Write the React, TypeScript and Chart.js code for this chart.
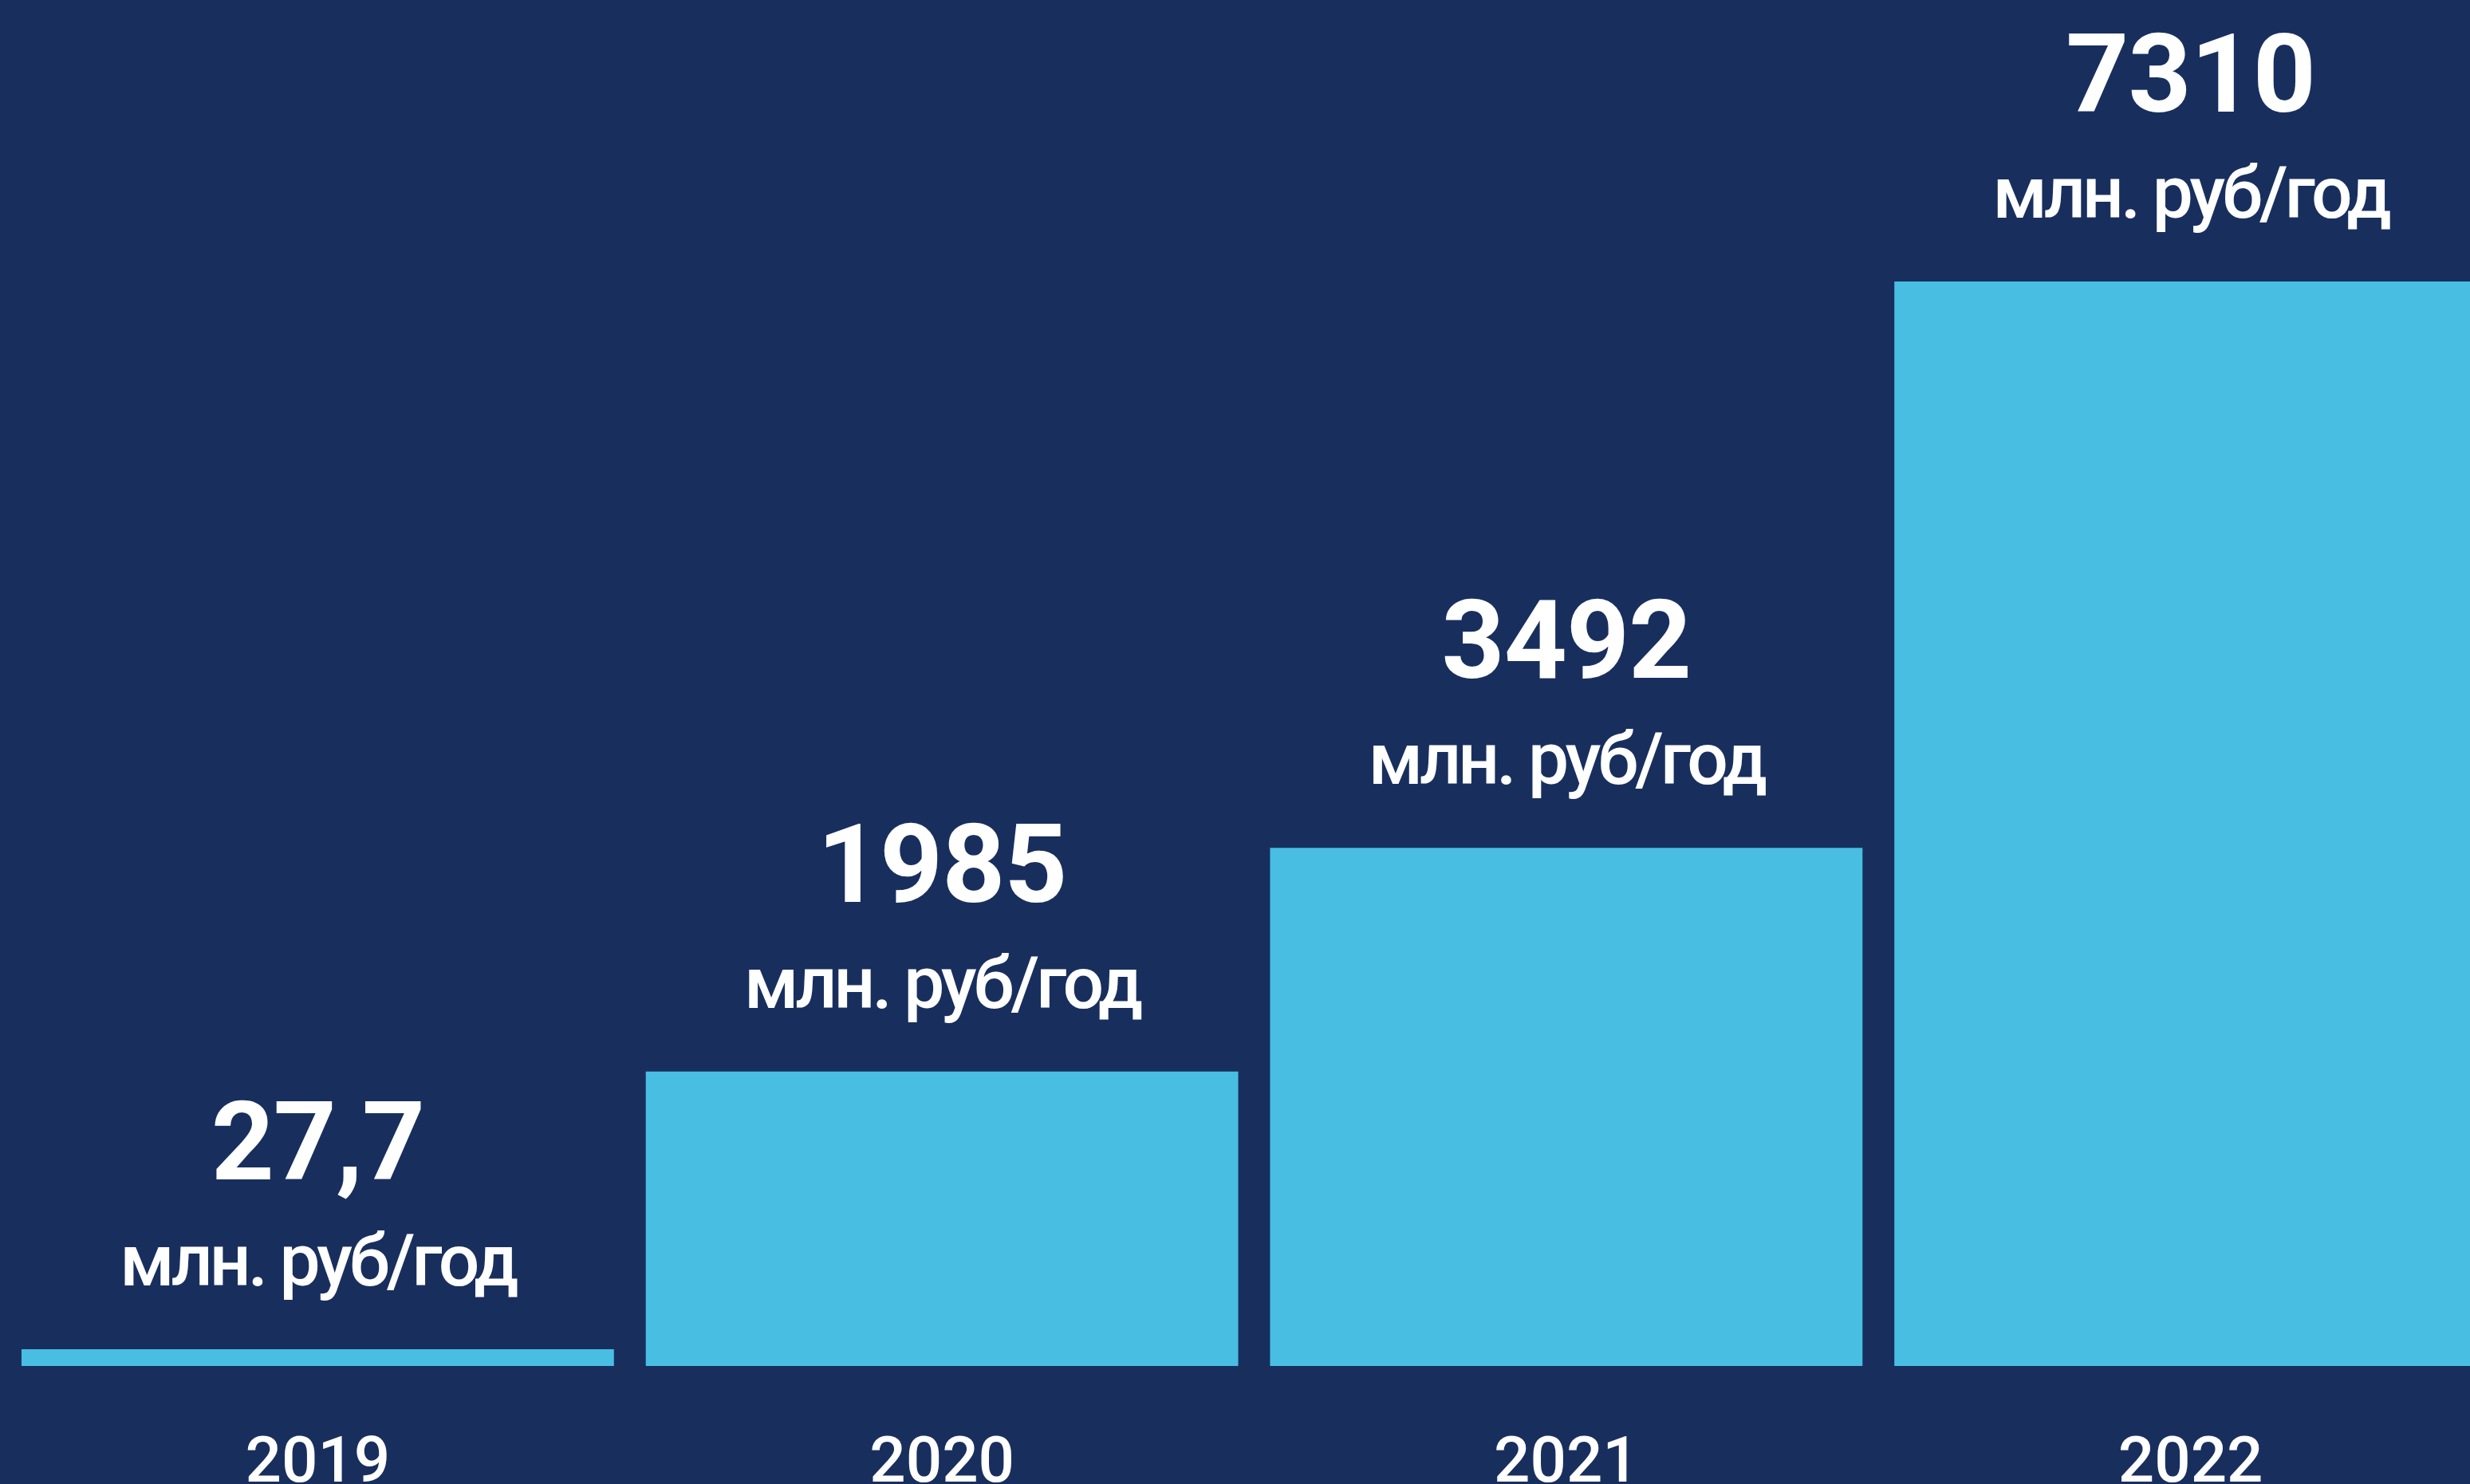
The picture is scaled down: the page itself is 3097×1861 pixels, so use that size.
import React, { useEffect, useRef } from "react";
import { Chart, registerables } from "chart.js";

Chart.register(...registerables);

const years = ["2019", "2020", "2021", "2022"];
const revenue = [27.7, 1985, 3492, 7310];
const valueLabels = ["27,7", "1985", "3492", "7310"];
const unitLabel = "млн. руб/год";

const BG = "#182f5e";
const BAR = "#48bee3";
const FONT = "Roboto, 'Noto Sans', sans-serif";

const labelPlugin = {
  id: "valueLabels",
  afterDatasetsDraw(chart: any) {
    const ctx = chart.ctx;
    const meta = chart.getDatasetMeta(0);
    const xScale = chart.scales.x;
    ctx.save();
    ctx.fillStyle = "#ffffff";
    ctx.textAlign = "center";
    ctx.textBaseline = "alphabetic";
    meta.data.forEach((bar: any, i: number) => {
      const x = bar.x;
      const top = bar.y;
      ctx.letterSpacing = "-1px";
      ctx.font = `700 138px ${FONT}`;
      ctx.fillText(valueLabels[i], x, top - 213);
      ctx.letterSpacing = "-4px";
      ctx.font = `500 91px ${FONT}`;
      ctx.fillText(unitLabel, x, top - 80);
    });
    ctx.letterSpacing = "0px";
    ctx.font = `500 80px ${FONT}`;
    years.forEach((y, i) => {
      const x = xScale.getPixelForValue(i);
      ctx.fillText(y, x, chart.chartArea.bottom + 145);
    });
    ctx.restore();
  },
};

export default function App() {
  const ref = useRef<HTMLCanvasElement | null>(null);
  useEffect(() => {
    if (!ref.current) return;
    const chart = new Chart(ref.current, {
      type: "bar",
      data: {
        labels: years,
        datasets: [
          {
            data: revenue,
            backgroundColor: BAR,
            borderWidth: 0,
            barPercentage: 0.949,
            categoryPercentage: 1,
            minBarLength: 21,
          },
        ],
      },
      options: {
        responsive: false,
        animation: false,
        devicePixelRatio: 1,
        layout: { padding: { top: 353, bottom: 148, left: 7, right: 0 } },
        plugins: { legend: { display: false }, tooltip: { enabled: false } },
        scales: {
          x: { display: false },
          y: { display: false, min: 0, max: 7310 },
        },
      },
      plugins: [labelPlugin],
    });
    return () => chart.destroy();
  }, []);
  return (
    <div
      style={{
        position: "fixed",
        left: 0,
        top: 0,
        width: "100vw",
        height: "100vh",
        overflow: "hidden",
        background: BG,
      }}
    >
      <canvas ref={ref} width={3138} height={1861} style={{ display: "block" }} />
    </div>
  );
}
